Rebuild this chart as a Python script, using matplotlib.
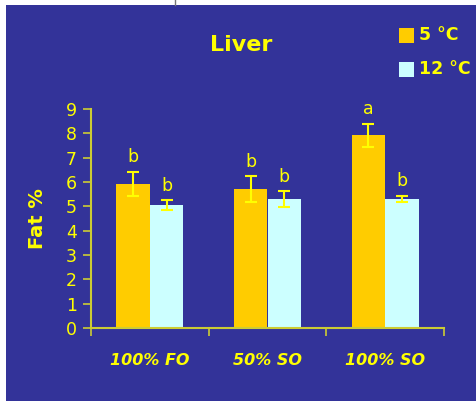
import matplotlib
matplotlib.use("Agg")
import matplotlib.pyplot as plt
from matplotlib.patches import Rectangle
from matplotlib.lines import Line2D
import numpy as np

categories = ["100% FO", "50% SO", "100% SO"]
series_names = ["5 °C", "12 °C"]
vals_5 = [5.93, 5.70, 7.92]
err_5 = [0.50, 0.53, 0.48]
vals_12 = [5.05, 5.30, 5.30]
err_12 = [0.20, 0.33, 0.14]
letters_5 = ["b", "b", "a"]
letters_12 = ["b", "b", "b"]
yticks = list(range(0, 10))

BG = "#333399"
ORANGE = "#FFCC00"
CYAN = "#CCFFFF"
YEL = "#FFFF00"
AXC = "#CCCC33"

W, H = 476, 401
fig = plt.figure(figsize=(W / 100, H / 100), dpi=100)
fig.patch.set_facecolor("white")
fig.add_artist(Rectangle((6 / W, 0), 1 - 6 / W, 1 - 5 / H, transform=fig.transFigure,
                         facecolor=BG, edgecolor="none", zorder=0))
fig.add_artist(Line2D([175 / W, 175 / W], [1 - 5 / H, 1], transform=fig.transFigure,
                      color="#777777", lw=1))

left, right = 91 / W, 444 / W
bottom, top = (H - 328) / H, (H - 109) / H
ax = fig.add_axes([left, bottom, right - left, top - bottom])
ax.set_facecolor("none")

x = np.arange(len(categories))
bw = 0.285
ax.bar(x - bw / 2, vals_5, bw, color=ORANGE, zorder=2)
ax.bar(x + bw / 2, vals_12, bw, color=CYAN, zorder=2)
ax.errorbar(x - bw / 2, vals_5, yerr=err_5, fmt="none", ecolor=YEL, elinewidth=1.5,
            capsize=4.5, capthick=1.5, zorder=3)
ax.errorbar(x + bw / 2, vals_12, yerr=err_12, fmt="none", ecolor=YEL, elinewidth=1.5,
            capsize=4.5, capthick=1.5, zorder=3)
for i in range(len(categories)):
    ax.text(x[i] - bw / 2, vals_5[i] + err_5[i] + 0.22, letters_5[i], ha="center", va="bottom",
            color=YEL, fontsize=12.5)
    ax.text(x[i] + bw / 2, vals_12[i] + err_12[i] + 0.22, letters_12[i], ha="center", va="bottom",
            color=YEL, fontsize=12.5)

ax.set_xlim(-0.5, len(categories) - 0.5)
ax.set_ylim(0, 9)
ax.set_yticks(yticks)
ax.set_yticklabels([str(t) for t in yticks], color=YEL, fontsize=12.5)
ax.set_xticks(x)
ax.set_xticklabels(categories, color=YEL, fontsize=11.5, fontweight="bold", style="italic")
ax.set_xticks(np.arange(-0.5, len(categories), 1.0), minor=True)
ax.tick_params(axis="x", which="major", length=0, pad=18)
ax.tick_params(axis="x", which="minor", length=6, color=AXC, width=1.2, direction="out")
ax.tick_params(axis="y", length=6, color=AXC, width=1.2, pad=4)
for s in ["top", "right"]:
    ax.spines[s].set_visible(False)
for s in ["left", "bottom"]:
    ax.spines[s].set_color(AXC)
    ax.spines[s].set_linewidth(1.5)

ax.set_ylabel("Fat %", color=YEL, fontsize=14, fontweight="bold", labelpad=14)

fig.text(241 / W, 1 - 45 / H, "Liver", color=YEL, fontsize=16, fontweight="bold",
         ha="center", va="center")

# legend
for j, (name, col) in enumerate(zip(series_names, [ORANGE, CYAN])):
    yc = 35 + j * 34
    fig.add_artist(Rectangle((399 / W, 1 - (yc + 7.5) / H), 15 / W, 15 / H,
                             transform=fig.transFigure, facecolor=col, edgecolor="none"))
    fig.text(419 / W, 1 - yc / H, name, color=YEL, fontsize=12.5, fontweight="bold",
             ha="left", va="center")

fig.savefig("out.png", dpi=100, facecolor=fig.get_facecolor())
